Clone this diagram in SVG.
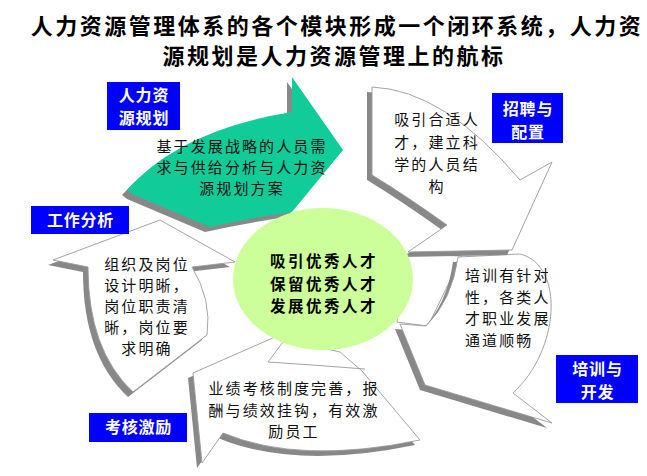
<svg xmlns="http://www.w3.org/2000/svg" xmlns:xlink="http://www.w3.org/1999/xlink" width="647" height="476" viewBox="0 0 647 476">
<style>
.title{font-family:"Noto Sans CJK SC",sans-serif;font-weight:bold;font-size:22px;fill:#000;text-anchor:middle;letter-spacing:2.5px}
.desc{font-family:"Noto Sans CJK SC",sans-serif;font-size:15px;fill:#111;letter-spacing:2.1px;text-anchor:middle}
.descl{font-family:"Noto Sans CJK SC",sans-serif;font-size:15px;fill:#111;letter-spacing:2.1px}
.center{font-family:"Noto Sans CJK SC",sans-serif;font-weight:bold;font-size:15.5px;fill:#000;text-anchor:middle;letter-spacing:2.5px}
.lab{font-family:"Noto Sans CJK SC",sans-serif;font-weight:bold;font-size:16px;fill:#fff;text-anchor:middle;letter-spacing:0.8px}
.box{fill:#0000ff}
.shadow{fill:#888}
.white{fill:#fff;stroke:#9a9a9a;stroke-width:0.9}
.green{fill:#11cc99}
.fold{fill:none;stroke:#9a9a9a;stroke-width:0.9}
</style>
<defs>
<path id="p-plan" d="M127,190 Q180,130 292,112 L292,77 L343,150 L292,212 Q250,218 210,227 L132,194 Z"/>
<path id="p-recruit" d="M372,87 Q444,90 520,180 L552,162 L512,250 L408,252 L447,225 Q405,195 372,175 Z"/>
<path id="p-train" d="M458,257 L520,254 C565,265 560,350 513,393 L552,423 L425,385 L400,324 L426,326 Q452,300 458,257 Z"/>
<path id="p-eval" d="M193,373 L275,337 L340,352 L362,371 L420,440 Q300,465 223,433 L202,463 Z"/>
<path id="p-job" d="M53,260 L160,220 L235,262 L192,267 Q212,300 207,335 L133,392 Q88,350 88,267 Z"/>
</defs>

<text class="title" x="337" y="34">人力资源管理体系的各个模块形成一个闭环系统，人力资</text>
<text class="title" x="334" y="64">源规划是人力资源管理上的航标</text>

<g id="job-analysis">
<use xlink:href="#p-job" class="shadow" transform="translate(-5,5)"/>
<use xlink:href="#p-job" class="white"/>
<text class="desc" x="147" y="270">组织及岗位</text>
<text class="desc" x="147" y="291">设计明晰，</text>
<text class="desc" x="147" y="312">岗位职责清</text>
<text class="desc" x="147" y="333">晰，岗位要</text>
<text class="desc" x="147" y="354">求明确</text>
</g>

<g id="evaluation">
<use xlink:href="#p-eval" class="shadow" transform="translate(-5,5)"/>
<use xlink:href="#p-eval" class="white"/>
<path class="fold" d="M283,342 L268,362 Q315,365 365,369"/>
<text class="desc" x="294" y="394">业绩考核制度完善，报</text>
<text class="desc" x="294" y="416">酬与绩效挂钩，有效激</text>
<text class="desc" x="294" y="437">励员工</text>
</g>

<g id="training">
<path class="white" d="M405,254 L462,256 L428,326 L397,322 Z"/>
<use xlink:href="#p-train" class="shadow" transform="translate(-5,5)"/>
<use xlink:href="#p-train" class="white"/>
<text class="descl" x="465" y="281">培训有针对</text>
<text class="descl" x="465" y="302.5">性，各类人</text>
<text class="descl" x="465" y="324">才职业发展</text>
<text class="descl" x="465" y="345.5">通道顺畅</text>
</g>

<g id="recruitment">
<use xlink:href="#p-recruit" class="shadow" transform="translate(-5,5)"/>
<use xlink:href="#p-recruit" class="white"/>
<text class="desc" x="437" y="125">吸引合适人</text>
<text class="desc" x="437" y="148">才，建立科</text>
<text class="desc" x="437" y="170">学的人员结</text>
<text class="desc" x="437" y="192">构</text>
</g>

<g id="planning">
<use xlink:href="#p-plan" class="shadow" transform="translate(-5,5)"/>
<use xlink:href="#p-plan" class="green"/>
<text class="desc" x="242" y="152">基于发展战略的人员需</text>
<text class="desc" x="242" y="173">求与供给分析与人力资</text>
<text class="desc" x="242" y="194">源规划方案</text>
</g>

<g id="core">
<ellipse cx="323" cy="279" rx="90" ry="71" fill="#ccff99"/>
<text class="center" x="324" y="267">吸引优秀人才</text>
<text class="center" x="324" y="289.5">保留优秀人才</text>
<text class="center" x="324" y="312">发展优秀人才</text>
</g>

<g id="label-planning">
<rect class="box" x="107" y="82" width="73" height="48"/>
<text class="lab" x="144" y="101">人力资</text>
<text class="lab" x="144" y="124">源规划</text>
</g>
<g id="label-recruitment">
<rect class="box" x="492" y="93" width="71" height="50"/>
<text class="lab" x="528" y="115">招聘与</text>
<text class="lab" x="528" y="138">配置</text>
</g>
<g id="label-job">
<rect class="box" x="31" y="206" width="98" height="28"/>
<text class="lab" x="80.5" y="226">工作分析</text>
</g>
<g id="label-training">
<rect class="box" x="556" y="355" width="82" height="48"/>
<text class="lab" x="597.5" y="375">培训与</text>
<text class="lab" x="597.5" y="398">开发</text>
</g>
<g id="label-eval">
<rect class="box" x="89" y="413" width="98" height="29"/>
<text class="lab" x="138.5" y="433">考核激励</text>
</g>
</svg>
